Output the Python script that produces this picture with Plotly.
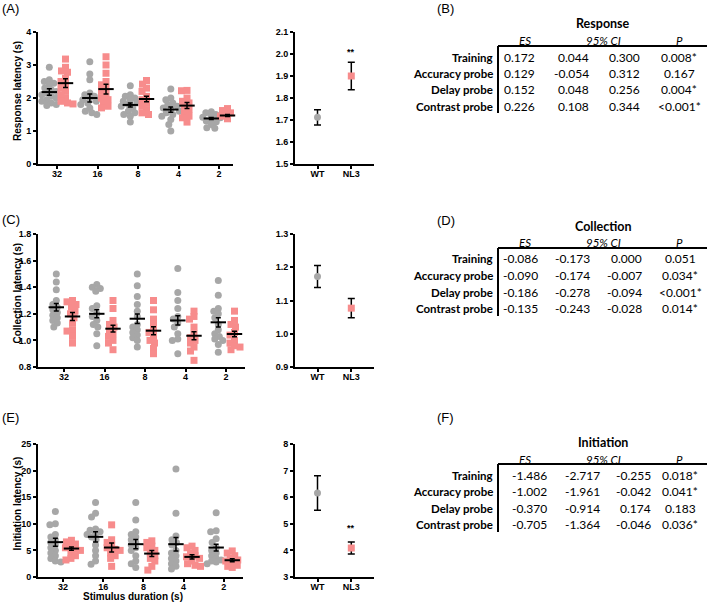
import plotly.graph_objects as go

# ---------------- DATA ----------------
durations = ["32", "16", "8", "4", "2"]
genotypes = ["WT", "NL3"]

resp_wt = [
    [2.93, 2.55, 2.50, 2.45, 2.40, 2.30, 2.25, 2.20, 2.15, 2.10, 2.05, 2.00, 1.95, 1.90, 1.85, 1.80, 1.77],
    [3.10, 2.73, 2.55, 2.15, 2.10, 2.05, 2.00, 1.95, 1.90, 1.85, 1.80, 1.70, 1.60, 1.55, 1.50],
    [2.37, 2.10, 2.05, 2.00, 1.95, 1.90, 1.85, 1.80, 1.75, 1.70, 1.60, 1.55, 1.50, 1.45, 1.27],
    [2.27, 2.00, 1.95, 1.85, 1.80, 1.75, 1.70, 1.65, 1.60, 1.55, 1.50, 1.45, 1.35, 1.20, 1.00],
    [1.58, 1.55, 1.50, 1.45, 1.42, 1.40, 1.38, 1.35, 1.30, 1.28, 1.25, 1.20, 1.10, 1.08],
]
resp_nl3 = [
    [3.18, 2.93, 2.82, 2.78, 2.60, 2.50, 2.40, 2.30, 2.20, 2.10, 2.00, 1.90, 1.85, 1.82],
    [3.25, 3.00, 2.75, 2.50, 2.40, 2.30, 2.20, 2.10, 2.00, 1.95, 1.85, 1.75, 1.70],
    [2.53, 2.42, 2.30, 2.20, 2.05, 1.95, 1.85, 1.75, 1.65, 1.55, 1.50],
    [2.23, 2.22, 2.00, 1.90, 1.85, 1.75, 1.65, 1.55, 1.45, 1.40, 1.27],
    [1.68, 1.62, 1.55, 1.50, 1.47, 1.45, 1.40, 1.37, 1.33],
]
resp_wt_mean = [2.18, 2.00, 1.79, 1.65, 1.38]
resp_wt_sem = [0.10, 0.12, 0.06, 0.08, 0.03]
resp_nl3_mean = [2.45, 2.27, 1.97, 1.77, 1.47]
resp_nl3_sem = [0.13, 0.15, 0.08, 0.09, 0.03]
resp_sum_mean = [1.712, 1.900]
resp_sum_sem = [0.035, 0.062]

coll_wt = [
    [1.50, 1.44, 1.38, 1.30, 1.27, 1.25, 1.23, 1.21, 1.19, 1.17, 1.15, 1.13, 1.10],
    [1.42, 1.40, 1.39, 1.37, 1.26, 1.24, 1.20, 1.18, 1.15, 1.12, 1.10, 1.05, 0.96],
    [1.50, 1.41, 1.33, 1.27, 1.22, 1.18, 1.12, 1.10, 1.08, 1.06, 1.04, 1.02, 1.00, 0.95],
    [1.54, 1.36, 1.30, 1.24, 1.18, 1.16, 1.13, 1.10, 1.05, 1.01, 1.00, 0.90],
    [1.45, 1.34, 1.24, 1.22, 1.20, 1.17, 1.12, 1.08, 1.05, 1.03, 1.01, 1.00, 0.97, 0.91],
]
coll_nl3 = [
    [1.30, 1.29, 1.27, 1.25, 1.22, 1.20, 1.17, 1.13, 1.08, 1.07, 1.03, 0.98],
    [1.30, 1.24, 1.15, 1.12, 1.10, 1.08, 1.05, 1.03, 1.00, 0.98, 0.93],
    [1.30, 1.23, 1.16, 1.12, 1.08, 1.06, 1.03, 1.00, 0.98, 0.94, 0.90],
    [1.22, 1.18, 1.16, 1.10, 1.05, 1.02, 1.00, 0.98, 0.95, 0.92, 0.85],
    [1.22, 1.15, 1.12, 1.10, 1.06, 1.04, 1.00, 0.98, 0.96, 0.95, 0.93],
]
coll_wt_mean = [1.249, 1.200, 1.163, 1.150, 1.136]
coll_wt_sem = [0.028, 0.030, 0.035, 0.035, 0.035]
coll_nl3_mean = [1.180, 1.088, 1.073, 1.035, 1.048]
coll_nl3_sem = [0.030, 0.025, 0.030, 0.030, 0.020]
coll_sum_mean = [1.172, 1.077]
coll_sum_sem = [0.033, 0.029]

init_wt = [
    [12.3, 10.0, 9.8, 8.0, 7.5, 7.0, 6.5, 6.0, 5.5, 5.0, 4.5, 4.0, 3.5, 3.0, 2.8],
    [14.0, 12.0, 11.3, 9.0, 8.8, 8.5, 8.2, 8.0, 7.5, 7.0, 6.0, 5.0, 4.0, 3.0, 2.4],
    [14.0, 10.7, 8.5, 8.0, 7.5, 7.0, 6.5, 6.0, 5.5, 5.0, 4.0, 3.0, 2.5, 1.8],
    [20.3, 12.0, 7.7, 7.0, 6.5, 6.0, 5.0, 4.5, 4.0, 3.5, 3.0, 2.5, 2.0, 1.5],
    [12.1, 8.7, 8.5, 7.2, 6.5, 5.5, 5.0, 4.5, 4.0, 3.5, 3.2, 3.0, 2.8, 2.5],
]
init_nl3 = [
    [6.9, 6.6, 6.2, 5.8, 5.5, 5.2, 5.0, 4.5, 4.0, 3.5, 3.2],
    [9.8, 7.0, 6.5, 6.0, 5.5, 5.2, 5.0, 4.5, 4.0, 3.5, 2.0],
    [6.8, 6.5, 5.8, 5.5, 5.0, 4.5, 4.0, 3.5, 3.0, 2.0, 1.3],
    [5.8, 5.5, 5.0, 4.5, 4.0, 3.8, 3.5, 3.0, 2.5, 2.2, 2.0],
    [4.9, 4.5, 4.0, 3.5, 3.2, 3.0, 2.8, 2.5, 2.2, 2.0, 1.8],
]
init_wt_mean = [6.55, 7.55, 6.17, 6.17, 5.54]
init_wt_sem = [0.75, 0.95, 0.88, 1.26, 0.63]
init_nl3_mean = [5.35, 5.54, 4.40, 3.78, 3.15]
init_nl3_sem = [0.30, 0.85, 0.57, 0.40, 0.28]
init_sum_mean = [6.16, 4.09]
init_sum_sem = [0.65, 0.23]

table_rows = ["Training", "Accuracy probe", "Delay probe", "Contrast probe"]
resp_es = ["0.172", "0.129", "0.152", "0.226"]
resp_ci_lo = ["0.044", "-0.054", "0.048", "0.108"]
resp_ci_hi = ["0.300", "0.312", "0.256", "0.344"]
resp_p = ["0.008*", "0.167", "0.004*", "<0.001*"]
coll_es = ["-0.086", "-0.090", "-0.186", "-0.135"]
coll_ci_lo = ["-0.173", "-0.174", "-0.278", "-0.243"]
coll_ci_hi = ["0.000", "-0.007", "-0.094", "-0.028"]
coll_p = ["0.051", "0.034*", "<0.001*", "0.014*"]
init_es = ["-1.486", "-1.002", "-0.370", "-0.705"]
init_ci_lo = ["-2.717", "-1.961", "-0.914", "-1.364"]
init_ci_hi = ["-0.255", "-0.042", "0.174", "-0.046"]
init_p = ["0.018*", "0.041*", "0.183", "0.036*"]

# ---------------- STYLE ----------------
W, H = 709, 612
GRAY = "#A7A7A7"
PINK = "#F78C8C"
TICK_FONT = dict(family="Liberation Sans, Arial", size=9, color="black", weight="bold")
TITLE_FONT = dict(family="Liberation Sans, Arial", size=10, color="black", weight="bold")
TAB_FONT = "Lato, Open Sans, sans-serif"


def fx(px):
    return px / W


def fy(py):
    return 1 - py / H


def swarm(vals, ypx, xpx, d=5.2, maxoff=9):
    placed = []
    offs = [0.0] * len(vals)
    order = sorted(range(len(vals)), key=lambda i: -vals[i])
    for i in order:
        y = vals[i] * ypx
        best = None
        step = 0
        while best is None and step * 0.5 <= maxoff:
            for sgn in ([0] if step == 0 else [-1, 1]):
                x = sgn * step * 0.5
                if all((x - a) ** 2 + (y - b) ** 2 >= d * d for a, b in placed):
                    best = x
                    break
            step += 1
        if best is None:
            best = 0.0
        placed.append((best, y))
        offs[i] = best / xpx
    return offs


fig = go.Figure()
layout_axes = {}

left_panels = [
    dict(ax=1, data=(resp_wt, resp_nl3), means=(resp_wt_mean, resp_nl3_mean), sems=(resp_wt_sem, resp_nl3_sem),
         x0=38, x1=233, y0=32, y1=164, c0=57, sp=40.5, yr=[0, 4], dtick=1, fmt=".0f",
         title="Response latency (s)"),
    dict(ax=3, data=(coll_wt, coll_nl3), means=(coll_wt_mean, coll_nl3_mean), sems=(coll_wt_sem, coll_nl3_sem),
         x0=38, x1=245, y0=234, y1=367, c0=64, sp=40.5, yr=[0.8, 1.8], dtick=0.2, fmt=".1f",
         title="Collection latency (s)"),
    dict(ax=5, data=(init_wt, init_nl3), means=(init_wt_mean, init_nl3_mean), sems=(init_wt_sem, init_nl3_sem),
         x0=38, x1=243, y0=444, y1=577, c0=63, sp=40.2, yr=[0, 25], dtick=5, fmt=".0f",
         title="Initiation latency (s)"),
]
right_panels = [
    dict(ax=2, mean=resp_sum_mean, sem=resp_sum_sem, y0=32, y1=164, yr=[1.5, 2.1], dtick=0.1, fmt=".1f",
         star=2.01),
    dict(ax=4, mean=coll_sum_mean, sem=coll_sum_sem, y0=234, y1=367, yr=[0.9, 1.3], dtick=0.1, fmt=".1f",
         star=None),
    dict(ax=6, mean=init_sum_mean, sem=init_sum_sem, y0=444, y1=577, yr=[3, 8], dtick=1, fmt=".0f",
         star=4.83),
]


def axis_common():
    return dict(showline=True, linewidth=2, linecolor="black", ticks="outside", ticklen=3, tickwidth=1.5,
                tickcolor="black", showgrid=False, zeroline=False, tickfont=TICK_FONT, fixedrange=True,
                automargin=False)


annotations = []
shapes = []

for p in left_panels:
    n = p["ax"]
    xa, ya = f"x{n}", f"y{n}"
    ypx_per = (p["y1"] - p["y0"]) / (p["yr"][1] - p["yr"][0])
    xr = [(p["x0"] - p["c0"]) / p["sp"], (p["x1"] - p["c0"]) / p["sp"]]
    for g, (color, symbol, shift) in enumerate([(GRAY, "circle", -0.19), (PINK, "square", 0.21)]):
        xs, ys = [], []
        for i, vals in enumerate(p["data"][g]):
            offs = swarm(vals, ypx_per, p["sp"])
            xs += [i + shift + o for o in offs]
            ys += vals
        fig.add_trace(go.Scatter(x=xs, y=ys, xaxis=xa, yaxis=ya, mode="markers", cliponaxis=False,
                                 marker=dict(symbol=symbol, size=7, color=color, line=dict(width=0)),
                                 showlegend=False, hoverinfo="skip"))
    for g, shift in enumerate([-0.19, 0.21]):
        fig.add_trace(go.Scatter(x=[i + shift for i in range(len(durations))], y=p["means"][g],
                                 xaxis=xa, yaxis=ya, mode="markers", cliponaxis=False,
                                 marker=dict(symbol="line-ew", size=11, line=dict(width=2, color="black")),
                                 error_y=dict(type="data", array=p["sems"][g], color="black", thickness=1.5,
                                              width=2.5),
                                 showlegend=False, hoverinfo="skip"))
    xd = dict(axis_common(), domain=[fx(p["x0"]), fx(p["x1"])], range=xr, anchor=ya,
              tickmode="array", tickvals=list(range(len(durations))), ticktext=durations,
              ticklabelstandoff=-3)
    yd = dict(axis_common(), domain=[fy(p["y1"]), fy(p["y0"])], range=p["yr"], anchor=xa,
              dtick=p["dtick"], tick0=p["yr"][0], tickformat=p["fmt"])
    layout_axes["xaxis" if n == 1 else f"xaxis{n}"] = xd
    layout_axes["yaxis" if n == 1 else f"yaxis{n}"] = yd
    annotations.append(dict(text=p["title"], xref="paper", yref="paper", x=fx(17),
                            y=fy((p["y0"] + p["y1"]) / 2 - 7), textangle=-90, showarrow=False,
                            font=TITLE_FONT, xanchor="center", yanchor="middle"))

for p in right_panels:
    n = p["ax"]
    xa, ya = f"x{n}", f"y{n}"
    x0, x1, c0, sp = 295, 374, 317.5, 33.8
    xr = [(x0 - c0) / sp, (x1 - c0) / sp]
    for g, (color, symbol) in enumerate([(GRAY, "circle"), (PINK, "square")]):
        fig.add_trace(go.Scatter(x=[g], y=[p["mean"][g]], xaxis=xa, yaxis=ya, mode="markers", cliponaxis=False,
                                 marker=dict(symbol=symbol, size=7, color=color, line=dict(width=0)),
                                 error_y=dict(type="data", array=[p["sem"][g]], color="black", thickness=1.5,
                                              width=3.5),
                                 showlegend=False, hoverinfo="skip"))
    xd = dict(axis_common(), domain=[fx(x0), fx(x1)], range=xr, anchor=ya,
              tickmode="array", tickvals=[0, 1], ticktext=genotypes, ticklabelstandoff=-3)
    yd = dict(axis_common(), domain=[fy(p["y1"]), fy(p["y0"])], range=p["yr"], anchor=xa,
              dtick=p["dtick"], tick0=p["yr"][0], tickformat=p["fmt"])
    layout_axes[f"xaxis{n}"] = xd
    layout_axes[f"yaxis{n}"] = yd
    if p["star"] is not None:
        annotations.append(dict(text="**", xref=xa, yref=ya, x=1, y=p["star"], showarrow=False,
                                font=dict(family="Liberation Sans, Arial", size=9, color="black", weight="bold"),
                                xanchor="center", yanchor="middle"))

# x axis title on bottom-left panel
annotations.append(dict(text="Stimulus duration (s)", xref="paper", yref="paper", x=fx(133), y=fy(596),
                        showarrow=False, font=TITLE_FONT, xanchor="center", yanchor="middle"))

# panel letters
for lab, px, py in [("(A)", 0, 9), ("(C)", 0, 219), ("(E)", 0, 417), ("(B)", 435, 9), ("(D)", 435, 220),
                    ("(F)", 435, 417)]:
    annotations.append(dict(text=lab, xref="paper", yref="paper", x=fx(px), y=fy(py), showarrow=False,
                            font=dict(family="Liberation Sans, Arial", size=13, color="black"),
                            xanchor="left", yanchor="middle"))

# tables
tables = [
    dict(title="Response", ty=24, hy=41, line=46, rows=[57, 73, 89, 106], vend=113,
         cols=(resp_es, resp_ci_lo, resp_ci_hi, resp_p), xr=(537, 591, 642), pc=679),
    dict(title="Collection", ty=226, hy=243, line=248, rows=[258, 275, 292, 308], vend=316,
         cols=(coll_es, coll_ci_lo, coll_ci_hi, coll_p), xr=(540, 592, 644), pc=680),
    dict(title="Initiation", ty=442, hy=459, line=464, rows=[475, 491, 508, 524], vend=532,
         cols=(init_es, init_ci_lo, init_ci_hi, init_p), xr=(549, 602, 653), pc=680),
]
for t in tables:
    annotations.append(dict(text=t["title"], xref="paper", yref="paper", x=fx(603), y=fy(t["ty"]),
                            showarrow=False, xanchor="center", yanchor="middle",
                            font=dict(family=TAB_FONT, size=12.5, color="black", weight="bold")))
    for txt, hx in [("ES", 525), ("95% CI", 603), ("P", 679)]:
        annotations.append(dict(text=f"<i>{txt}</i>", xref="paper", yref="paper", x=fx(hx), y=fy(t["hy"]),
                                showarrow=False, xanchor="center", yanchor="middle",
                                font=dict(family=TAB_FONT, size=11.5, color="black")))
    shapes.append(dict(type="line", xref="paper", yref="paper", x0=fx(498), x1=fx(707), y0=fy(t["line"]),
                       y1=fy(t["line"]), line=dict(color="black", width=2)))
    shapes.append(dict(type="line", xref="paper", yref="paper", x0=fx(498), x1=fx(498), y0=fy(t["line"]),
                       y1=fy(t["vend"]), line=dict(color="black", width=2)))
    for r, ry in enumerate(t["rows"]):
        annotations.append(dict(text=table_rows[r], xref="paper", yref="paper", x=fx(495), y=fy(ry),
                                showarrow=False, xanchor="right", yanchor="middle",
                                font=dict(family=TAB_FONT, size=11.5, color="black", weight="bold")))
        for c in range(3):
            annotations.append(dict(text=t["cols"][c][r], xref="paper", yref="paper", x=fx(t["xr"][c]),
                                    y=fy(ry), showarrow=False, xanchor="right", yanchor="middle",
                                    font=dict(family=TAB_FONT, size=12, color="black")))
        annotations.append(dict(text=t["cols"][3][r], xref="paper", yref="paper", x=fx(t["pc"]), y=fy(ry),
                                showarrow=False, xanchor="center", yanchor="middle",
                                font=dict(family=TAB_FONT, size=12, color="black")))

fig.update_layout(width=W, height=H, autosize=False, margin=dict(l=0, r=0, t=0, b=0, pad=0),
                  paper_bgcolor="white", plot_bgcolor="white", showlegend=False,
                  annotations=annotations, shapes=shapes, **layout_axes)

fig.write_html("out.html", config={"displayModeBar": False},
               post_script="document.body.style.margin='0';document.body.style.overflow='hidden';")
